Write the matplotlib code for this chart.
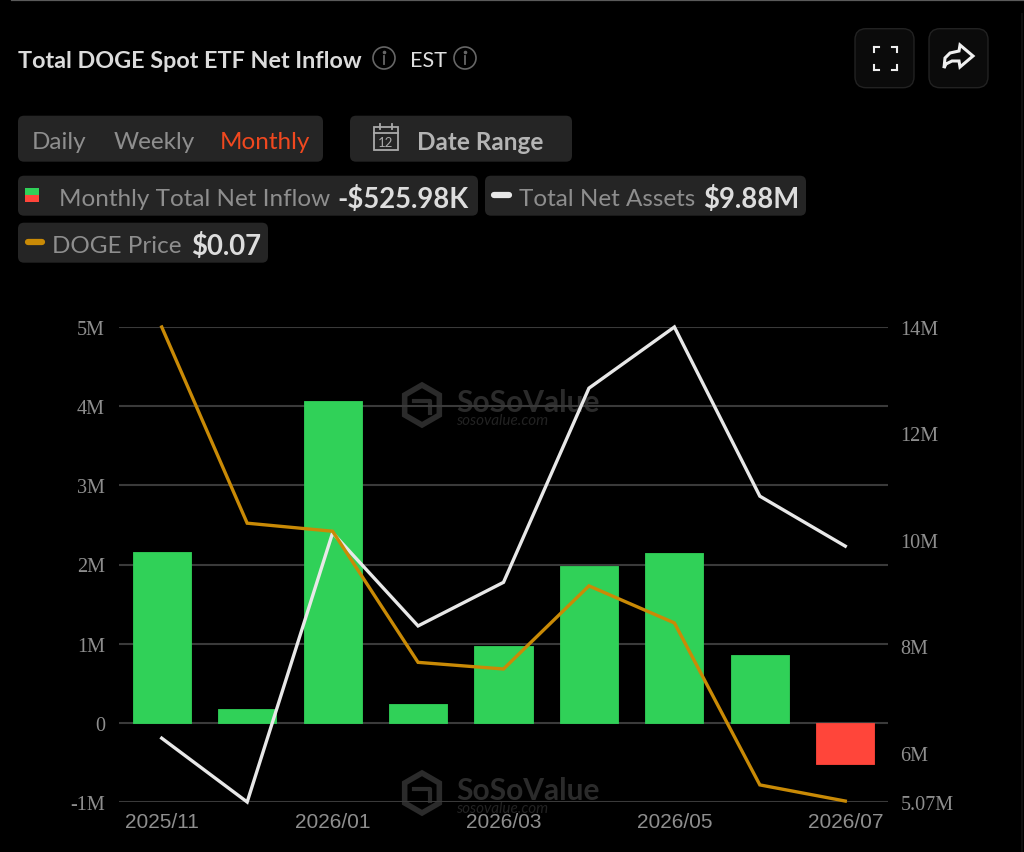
import matplotlib
matplotlib.use("Agg")
import matplotlib.pyplot as plt
from matplotlib.patches import FancyBboxPatch, Circle, Rectangle, Polygon, RegularPolygon

months = ["2025/11", "2025/12", "2026/01", "2026/02", "2026/03", "2026/04", "2026/05", "2026/06", "2026/07"]
net_inflow = [2.16, 0.17, 4.07, 0.24, 0.97, 1.98, 2.15, 0.86, -0.526]
net_assets = [6.27, 5.07, 10.13, 8.38, 9.2, 12.85, 14.0, 10.82, 9.88]
doge_price = [0.17, 0.1287, 0.127, 0.0994, 0.098, 0.1155, 0.1077, 0.0736, 0.0702]

left_ticks = [-1, 0, 1, 2, 3, 4, 5]
left_labels = ["-1M", "0", "1M", "2M", "3M", "4M", "5M"]
right_ticks = [5.07, 6, 8, 10, 12, 14]
right_labels = ["5.07M", "6M", "8M", "10M", "12M", "14M"]

GREEN = "#30d158"
RED = "#ff453a"
WHITE = "#e8e8e8"
GOLD = "#c98a06"
CHIP = "#252525"
GREY = "#8e8e8e"
W, H = 1024, 853

plt.rcParams["font.family"] = ["Lato", "DejaVu Sans"]
fig = plt.figure(figsize=(W / 100, H / 100), dpi=100, facecolor="#000000")

# page furniture drawn in pixel coordinates
ui = fig.add_axes([0, 0, 1, 1], zorder=0)
ui.set_xlim(0, W)
ui.set_ylim(H, 0)
ui.axis("off")


def chip(x0, y0, x1, y1, color=CHIP, edge="none", r=6):
    ui.add_patch(FancyBboxPatch((x0 + r, y0 + r + 0.7), x1 - x0 - 2 * r, y1 - y0 - 2 * r,
                                boxstyle=f"round,pad={r},rounding_size={r}",
                                fc=color, ec=edge, lw=1))


def label(x, y, s, color=GREY, size=17.5, weight="normal", ha="left"):
    ui.text(x, y, s, color=color, fontsize=size, fontweight=weight, ha=ha, va="center_baseline")


def info(x, y):
    ui.add_patch(Circle((x, y), 11, fc="none", ec="#666666", lw=1.2))
    ui.plot([x, x], [y - 2, y + 6], color="#666666", lw=1.3)
    ui.plot([x], [y - 6], marker="o", ms=1.6, color="#666666")


ui.plot([12, W], [0.5, 0.5], color="#5a5a5a", lw=1.6)
ui.plot([1022, 1022], [15, H], color="#0e0e0e", lw=1.5)

label(18, 59, "Total DOGE Spot ETF Net Inflow", "#dcdcdc", 16.8, "bold")
info(384, 59)
label(410, 59, "EST", "#e0e0e0", 15.5)
info(465, 59)

# top right buttons
chip(855, 29, 914, 88, "#0b0b0b", "#222222", 11)
chip(929, 29, 988, 88, "#0b0b0b", "#222222", 11)
for sx, sy in [(-1, -1), (1, -1), (-1, 1), (1, 1)]:
    cx, cy = 885 + sx * 11.5, 59 + sy * 11.5
    ui.plot([cx, cx - sx * 5], [cy, cy], color="#eeeeee", lw=1.5)
    ui.plot([cx, cx], [cy, cy - sy * 5], color="#eeeeee", lw=1.5)
ui.add_patch(Polygon([(960, 46), (973, 57), (960, 68), (959, 62), (952, 62), (946, 65), (944, 69),
                      (945, 59), (950, 54), (959, 52)], closed=True, fc="none", ec="#f0f0f0", lw=2.2))

# period selector and date range
chip(18, 116, 323, 162)
label(32, 140, "Daily")
label(114, 140, "Weekly")
label(220, 140, "Monthly", "#f0481f")
chip(350, 116, 572, 162)
ui.add_patch(Rectangle((374, 128), 24, 23, fc="none", ec="#aaaaaa", lw=1.3))
ui.plot([374, 398], [134, 134], color="#aaaaaa", lw=1.3)
ui.plot([380, 380], [125, 130], color="#aaaaaa", lw=1.3)
ui.plot([392, 392], [125, 130], color="#aaaaaa", lw=1.3)
ui.text(386, 143, "12", color="#aaaaaa", fontsize=9.5, ha="center", va="center")
label(417, 140, "Date Range", "#b4b4b4", 17.5, "bold")

# legend chips
chip(18, 176, 478, 216)
ui.add_patch(Rectangle((25, 189), 14, 7, fc=GREEN, ec="none"))
ui.add_patch(Rectangle((25, 196), 14, 7, fc=RED, ec="none"))
label(59, 197, "Monthly Total Net Inflow")
label(337, 197, "-$525.98K", "#dddddd", 19.8, "bold")
chip(485, 176, 806, 216)
ui.plot([494, 509], [196, 196], color=WHITE, lw=4.5, solid_capstyle="round")
label(519, 197, "Total Net Assets")
label(703, 197, "$9.88M", "#dddddd", 19.8, "bold")
chip(18, 223, 268, 263)
ui.plot([28, 42], [243, 243], color=GOLD, lw=4.5, solid_capstyle="round")
label(52, 244, "DOGE Price")
label(191, 244, "$0.07", "#dddddd", 19.8, "bold")


def watermark(x, y):
    ui.add_patch(RegularPolygon((x, y), 6, radius=20, fc="none", ec="#2b2b2b", lw=4))
    ui.plot([x - 8, x + 8, x + 8], [y - 4, y - 4, y + 8], color="#2b2b2b", lw=3)
    ui.text(x + 34, y - 3, "SoSoValue", color="#2b2b2b", fontsize=21.5, fontweight="bold", va="center")
    ui.text(x + 34, y + 15, "sosovalue.com", color="#222222", fontsize=11, style="italic", va="center")


watermark(422, 406)
watermark(422, 794)

# chart
x_pos = list(range(len(months)))
ax = fig.add_axes([119 / W, 1 - 803 / H, (888 - 119) / W, (803 - 328) / H], zorder=2)
ax.patch.set_visible(False)
bar_colors = [GREEN if v >= 0 else RED for v in net_inflow]
ax.bar(x_pos, net_inflow, width=0.68, color=bar_colors, edgecolor=bar_colors, linewidth=0.6,
       joinstyle="round", zorder=3)
ax.set_xlim(-0.5, 8.5)
ax.set_ylim(-1, 5)
ax.set_yticks(left_ticks, left_labels, family="Liberation Serif", fontsize=14.5, color=GREY)
ax.set_xticks(x_pos[::2], months[::2], family="Liberation Sans", fontsize=15, color=GREY)
ax.tick_params(length=0)
ax.tick_params(axis="y", pad=10)
ax.tick_params(axis="x", pad=7)
ax.grid(axis="y", color="#3a3a3a", lw=1.5, zorder=1)
ax.set_axisbelow(True)
for s in ax.spines.values():
    s.set_visible(False)

ax2 = ax.twinx()
ax2.plot(x_pos, net_assets, color=WHITE, lw=2.4, solid_joinstyle="miter", clip_on=False, zorder=5)
ax2.set_ylim(5.07, 14)
ax2.set_yticks(right_ticks, right_labels, family="Liberation Serif", fontsize=14.5, color=GREY)
ax2.tick_params(length=0, pad=9)
for s in ax2.spines.values():
    s.set_visible(False)

ax3 = ax.twinx()
ax3.plot(x_pos, doge_price, color=GOLD, lw=2.4, solid_joinstyle="miter", clip_on=False, zorder=4)
ax3.set_ylim(0.07, 0.17)
ax3.axis("off")

fig.savefig("out.png", dpi=100, facecolor=fig.get_facecolor())
